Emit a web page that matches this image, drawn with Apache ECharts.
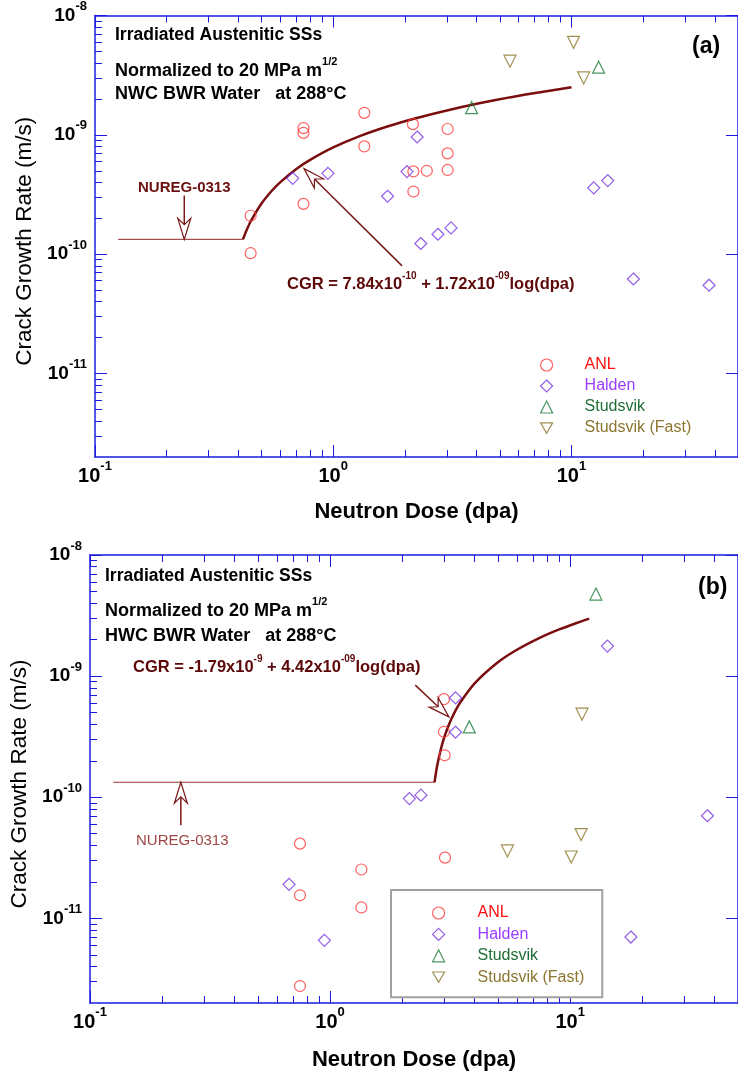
<!DOCTYPE html>
<html>
<head>
<meta charset="utf-8">
<script src="https://cdn.jsdelivr.net/npm/echarts@6/dist/echarts.min.js"></script>
<style>
	html, body { margin: 0; padding: 0; background: #fff; }
	#chart { width: 738px; height: 1074px; }
</style>
</head>
<body>
<div id="chart"></div>
<script>
// values, [dose (dpa), CGR (m/s)]
// (a) NWC BWR water
var anlA = [[0.45, 2.1e-10], [0.45, 1.02e-10], [0.75, 1.14e-9], [0.75, 1.04e-9], [0.75, 2.64e-10],
	[1.35, 1.53e-9], [1.35, 8.0e-10], [2.16, 1.23e-9], [2.17, 4.94e-10], [2.47, 5.0e-10],
	[2.17, 3.35e-10], [3.02, 1.12e-9], [3.02, 7.0e-10], [3.02, 5.08e-10]];
var haldenA = [[0.676, 4.32e-10], [0.95, 4.76e-10], [2.25, 9.6e-10], [2.04, 4.92e-10], [1.69, 3.06e-10],
	[2.33, 1.23e-10], [2.75, 1.47e-10], [3.12, 1.66e-10], [12.4, 3.6e-10], [14.2, 4.14e-10],
	[18.2, 6.2e-11], [37.8, 5.5e-11]];
var studsvikA = [[3.81, 1.69e-9], [13.0, 3.69e-9]];
var fastA = [[5.52, 4.14e-9], [10.2, 5.96e-9], [11.25, 3.0e-9]];
var nuregA = [[0.125, 1.33e-10], [0.418, 1.33e-10]];
var fitA = [[0.418, 1.33e-10], [0.43, 1.54e-10], [0.45, 1.88e-10], [0.5, 2.66e-10], [0.55, 3.37e-10],
	[0.6, 4.02e-10], [0.7, 5.18e-10], [0.8, 6.17e-10], [1, 7.84e-10], [1.3, 9.8e-10], [1.7, 1.18e-9],
	[2.2, 1.37e-9], [3, 1.6e-9], [4, 1.82e-9], [5.5, 2.06e-9], [7.5, 2.29e-9], [10, 2.5e-9]];
// arrows: [tail dose, tail CGR, tip dose, tip CGR]
var arrowsA = [[0.237, 3.1e-10, 0.237, 1.33e-10], [1.945, 7.99e-11, 0.754, 5.21e-10]];

// (b) HWC BWR water
var anlB = [[2.98, 6.45e-10], [2.98, 3.47e-10], [3.0, 2.22e-10], [0.749, 4.14e-11], [0.749, 1.55e-11],
	[0.749, 2.76e-12], [1.35, 2.53e-11], [1.35, 1.23e-11], [3.01, 3.17e-11]];
var haldenB = [[3.33, 6.62e-10], [3.33, 3.44e-10], [2.14, 9.75e-11], [2.39, 1.04e-10], [14.3, 1.77e-9],
	[37.3, 7.03e-11], [0.675, 1.91e-11], [0.947, 6.58e-12], [17.9, 7.01e-12]];
var studsvikB = [[12.8, 4.76e-9], [3.8, 3.81e-10]];
var fastB = [[11.2, 4.85e-10], [5.48, 3.6e-11], [10.1, 3.21e-11], [11.1, 4.92e-11]];
var nuregB = [[0.125, 1.33e-10], [2.723, 1.33e-10]];
var fitB = [[2.723, 1.33e-10], [2.75, 1.52e-10], [2.8, 1.87e-10], [2.9, 2.54e-10], [3.0, 3.19e-10],
	[3.1, 3.82e-10], [3.2, 4.43e-10], [3.35, 5.31e-10], [3.5, 6.15e-10], [4, 8.71e-10], [5, 1.3e-9],
	[6, 1.65e-9], [7.5, 2.08e-9], [9, 2.43e-9], [10.5, 2.72e-9], [12, 2.98e-9]];
var arrowsB = [[0.239, 5.87e-11, 0.239, 1.33e-10], [2.263, 8.43e-10, 3.125, 4.61e-10]];

var xTicks = [0.1, 1, 10];
var xMinorTicks = [0.2, 0.3, 0.4, 0.5, 0.6, 0.7, 0.8, 0.9, 2, 3, 4, 5, 6, 7, 8, 9, 20, 30, 40];
var yTicks = [1e-11, 1e-10, 1e-9, 1e-8];
var yMinorTicks = [3e-12, 4e-12, 5e-12, 6e-12, 7e-12, 8e-12, 9e-12,
	2e-11, 3e-11, 4e-11, 5e-11, 6e-11, 7e-11, 8e-11, 9e-11,
	2e-10, 3e-10, 4e-10, 5e-10, 6e-10, 7e-10, 8e-10, 9e-10,
	2e-9, 3e-9, 4e-9, 5e-9, 6e-9, 7e-9, 8e-9, 9e-9];
var seriesNames = ['ANL', 'Halden', 'Studsvik', 'Studsvik (Fast)'];

var FONT = '"Liberation Sans", Arial, sans-serif';
var BLUE = '#1c1ce0';
var FIT = '#7a0e0e';
var NUREG = '#a85050';
var colors = ['#ff3a3a', '#7634e4', '#1c7a3a', '#8a7426'];
var textColors = ['#ff1010', '#9a3cff', '#1f6e36', '#8c7630'];

function supLabel(v) {
	var e = Math.round(Math.log(v) / Math.LN10);
	return '{b|10}{s|' + e + '}';
}

function tickRich(size) {
	return {
		b: {fontFamily: FONT, fontSize: size, fontWeight: 'bold', color: '#000', padding: [6, 0, 0, 0]},
		s: {fontFamily: FONT, fontSize: 13, fontWeight: 'bold', color: '#000', verticalAlign: 'top'}
	};
}

function makeX(grid, pos, minor, withLabel, gap) {
	var ax = {
		gridIndex: grid, type: 'log', min: 0.1, max: 50, position: pos,
		splitLine: {show: false},
		axisLine: {show: !minor, onZero: false, lineStyle: {color: BLUE, width: 1.5}},
		axisTick: {inside: true, length: minor ? 7 : 12, customValues: minor ? xMinorTicks : xTicks,
			lineStyle: {color: BLUE, width: 1}},
		axisLabel: {show: false}
	};
	if (withLabel) {
		ax.axisLabel = {show: true, customValues: xTicks, formatter: supLabel, margin: 3, rich: tickRich(20)};
		ax.name = 'Neutron Dose (dpa)';
		ax.nameLocation = 'middle';
		ax.nameGap = gap;
		ax.nameTextStyle = {fontFamily: FONT, fontSize: 22, fontWeight: 'bold', color: '#000'};
	}
	return ax;
}

function makeY(grid, pos, minor, withLabel) {
	var ax = {
		gridIndex: grid, type: 'log', min: 2e-12, max: 1e-8, position: pos,
		splitLine: {show: false},
		axisLine: {show: !minor, onZero: false, lineStyle: {color: BLUE, width: 1.5}},
		axisTick: {inside: true, length: minor ? 7 : 12, customValues: minor ? yMinorTicks : yTicks,
			lineStyle: {color: BLUE, width: 1}},
		axisLabel: {show: false}
	};
	if (withLabel) {
		ax.axisLabel = {show: true, customValues: yTicks, formatter: supLabel, margin: 8,
			padding: [0, 0, 6, 0], rich: tickRich(19)};
		ax.name = 'Crack Growth Rate (m/s)';
		ax.nameLocation = 'middle';
		ax.nameRotate = 90;
		ax.nameGap = 57;
		ax.nameTextStyle = {fontFamily: FONT, fontSize: 22.5, color: '#000', padding: [0, 10, 0, 0]};
	}
	return ax;
}

function scatter(i, data, xi, yi) {
	return {
		name: seriesNames[i], type: 'scatter', xAxisIndex: xi, yAxisIndex: yi,
		data: data, symbol: i === 0 ? 'circle' : (i === 1 ? 'diamond' : 'triangle'),
		symbolRotate: i === 3 ? 180 : 0,
		symbolSize: i === 0 ? 11 : 12,
		itemStyle: {color: 'rgba(255,255,255,0)', borderColor: colors[i], borderWidth: 1.2},
		z: 4
	};
}

function line(name, data, xi, yi, color, width) {
	return {
		name: name, type: 'line', xAxisIndex: xi, yAxisIndex: yi, data: data,
		showSymbol: false, smooth: 0.2, lineStyle: {color: color, width: width}, z: 3
	};
}

function renderArrow(params, api) {
	var tail = api.coord([api.value(0), api.value(1)]);
	var tip = api.coord([api.value(2), api.value(3)]);
	var dx = tip[0] - tail[0], dy = tip[1] - tail[1];
	var d = Math.sqrt(dx * dx + dy * dy);
	var ux = dx / d, uy = dy / d;
	var hl = 21, hw = 6.5;
	var bx = tip[0] - ux * hl, by = tip[1] - uy * hl;
	var nx = tip[0] - ux * hl * 0.7, ny = tip[1] - uy * hl * 0.7;
	var color = api.visual('color');
	return {
		type: 'group',
		children: [
			{type: 'line', shape: {x1: tail[0], y1: tail[1], x2: nx, y2: ny},
				style: {stroke: color, lineWidth: 1.5}},
			{type: 'polygon', shape: {points: [tip, [bx - uy * hw, by + ux * hw], [nx, ny], [bx + uy * hw, by - ux * hw]]},
				style: {fill: '#fff', stroke: color, lineWidth: 1.2}}
		]
	};
}

function arrows(data, xi, yi, color) {
	return {
		name: 'arrows', type: 'custom', xAxisIndex: xi, yAxisIndex: yi, data: data,
		encode: {x: [0, 2], y: [1, 3]}, renderItem: renderArrow, silent: true,
		itemStyle: {color: color}, z: 5
	};
}

// small icon, the gap to the label is made with text padding so symbols keep their shape
function legendData(gap) {
	var out = [];
	for (var i = 0; i < seriesNames.length; i++) {
		var item = {
			name: seriesNames[i],
			itemStyle: {borderWidth: 1.2},
			textStyle: {color: textColors[i], padding: [0, 0, 0, gap]}
		};
		// legend ignores symbolRotate, so the downward triangle gets its own icon
		if (i === 3) item.icon = 'path://M0,0L12,0L6,10.4Z';
		out.push(item);
	}
	return out;
}

function txt(x, y, text, font, fill, rich) {
	var style = {x: x, y: y, text: text, font: font, fill: fill || '#000', verticalAlign: 'middle'};
	if (rich) style.rich = rich;
	return {type: 'text', style: style, z: 10};
}

var headRich = {
	n: {fontFamily: FONT, fontSize: 18, fontWeight: 'bold', fill: '#000', padding: [6, 0, 0, 0]},
	s: {fontFamily: FONT, fontSize: 11, fontWeight: 'bold', fill: '#000', verticalAlign: 'top'}
};
var fitRich = {
	t: {fontFamily: FONT, fontSize: 16.5, fontWeight: 'bold', fill: '#5c0808', padding: [5, 0, 0, 0]},
	s: {fontFamily: FONT, fontSize: 10, fontWeight: 'bold', fill: '#5c0808', verticalAlign: 'top'}
};

option = {
	animation: false,
	backgroundColor: '#fff',
	grid: [
		{left: 95, top: 14, width: 649, height: 443},
		{left: 90, top: 555, width: 660, height: 448}
	],
	// per grid: x bottom, x bottom minor, x top, x top minor
	xAxis: [
		makeX(0, 'bottom', false, true, 44), makeX(0, 'bottom', true), makeX(0, 'top', false), makeX(0, 'top', true),
		makeX(1, 'bottom', false, true, 46), makeX(1, 'bottom', true), makeX(1, 'top', false), makeX(1, 'top', true)
	],
	// per grid: y left, y left minor, y right
	yAxis: [
		makeY(0, 'left', false, true), makeY(0, 'left', true), makeY(0, 'right', false),
		makeY(1, 'left', false, true), makeY(1, 'left', true), makeY(1, 'right', false)
	],
	legend: [
		{
			data: legendData(27), orient: 'vertical', left: 540, top: 357, itemWidth: 12, itemHeight: 12,
			itemGap: 5, padding: 0, selectedMode: false,
			textStyle: {fontFamily: FONT, fontSize: 16}
		},
		{
			data: legendData(28), orient: 'vertical', left: 391, top: 890, itemWidth: 12, itemHeight: 12,
			itemGap: 5.4, padding: [15, 18, 12, 41], selectedMode: false,
			borderColor: '#a0a0a0', borderWidth: 2, backgroundColor: '#fff',
			textStyle: {fontFamily: FONT, fontSize: 16}
		}
	],
	series: [
		scatter(0, anlA, 0, 0), scatter(1, haldenA, 0, 0), scatter(2, studsvikA, 0, 0), scatter(3, fastA, 0, 0),
		line('NUREG-0313', nuregA, 0, 0, NUREG, 1.2), line('fit (a)', fitA, 0, 0, FIT, 2.5),
		arrows(arrowsA, 0, 0, '#7a1818'),
		scatter(0, anlB, 4, 3), scatter(1, haldenB, 4, 3), scatter(2, studsvikB, 4, 3), scatter(3, fastB, 4, 3),
		line('NUREG-0313', nuregB, 4, 3, '#9a3030', 1.2), line('fit (b)', fitB, 4, 3, FIT, 2.5),
		arrows(arrowsB, 4, 3, '#7a1818')
	],
	graphic: [
		txt(115, 35, 'Irradiated Austenitic SSs', 'bold 17.5px ' + FONT),
		txt(115, 68, '{n|Normalized to 20 MPa m}{s|1/2}', '', null, headRich),
		txt(115, 94, 'NWC BWR Water   at 288\u00b0C', 'bold 18px ' + FONT),
		txt(692, 47, '(a)', 'bold 23px ' + FONT),
		txt(138, 188, 'NUREG-0313', 'bold 15px ' + FONT, '#6a1010'),
		txt(287, 282, '{t|CGR = 7.84x10}{s|-10}{t| + 1.72x10}{s|-09}{t|log(dpa)}', '', null, fitRich),

		txt(105, 576, 'Irradiated Austenitic SSs', 'bold 17.5px ' + FONT),
		txt(105, 608, '{n|Normalized to 20 MPa m}{s|1/2}', '', null, headRich),
		txt(105, 636, 'HWC BWR Water   at 288\u00b0C', 'bold 18px ' + FONT),
		txt(698, 588, '(b)', 'bold 23px ' + FONT),
		txt(136, 841, 'NUREG-0313', '15px ' + FONT, '#a04545'),
		txt(133, 665, '{t|CGR = -1.79x10}{s|-9}{t| + 4.42x10}{s|-09}{t|log(dpa)}', '', null, fitRich)
	]
};

var chart = echarts.init(document.getElementById('chart'));
chart.setOption(option);
</script>
</body>
</html>
